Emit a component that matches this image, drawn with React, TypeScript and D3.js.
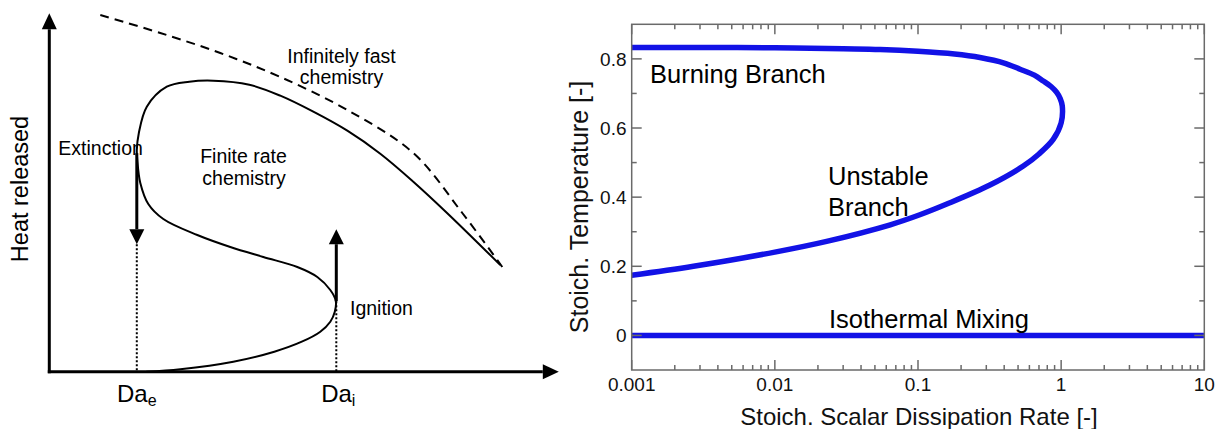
import React from 'react';
import * as d3 from 'd3';

const W = 1216;
const H = 429;
const FONT = '"Liberation Sans", Arial, Helvetica, sans-serif';

// ---------- Left panel: schematic S-curve (arbitrary units) ----------
const heatDa = [1.94, 2.62, 3.68, 4.5, 5.05, 5.42, 5.62, 5.71, 5.73, 5.62, 5.36, 4.96, 4.28, 3.62, 2.96, 2.28, 1.98, 1.82, 1.76, 1.75, 1.79, 1.95, 2.35, 2.8, 3.28, 4.0, 4.62, 5.28, 5.96, 6.62, 7.28, 7.96, 9.02];
const heatQ = [0, 0.05, 0.2, 0.4, 0.6, 0.8, 1.0, 1.2, 1.414, 1.634, 1.894, 2.094, 2.294, 2.494, 2.734, 3.054, 3.354, 3.774, 4.234, 4.434, 4.77, 5.3, 5.7, 5.8, 5.82, 5.74, 5.52, 5.2, 4.82, 4.36, 3.8, 3.17, 2.134];
const fastDa = [1.02, 2.22, 3.42, 4.62, 5.96, 7.28, 8.26, 9.06];
const fastQ = [7.134, 6.774, 6.374, 5.894, 5.234, 4.374, 3.174, 2.094];
const extinctionDa = 1.75;
const extinctionQ = [4.37, 2.55];
const ignitionDa = 5.74;
const ignitionQ = [1.41, 2.85];
const axisTipDa = 10.19;
const axisTipQ = 7.17;

// ---------- Right panel: S-curve data ----------
const chiTicks = [0.001, 0.01, 0.1, 1, 10];
const chiTickLabels = ['0.001', '0.01', '0.1', '1', '10'];
const tempTicks = [0, 0.2, 0.4, 0.6, 0.8];
const tempTickLabels = ['0', '0.2', '0.4', '0.6', '0.8'];
const tempMinorTicks = [0.1, 0.3, 0.5, 0.7];
const sChi = [0.001, 0.003, 0.01, 0.03, 0.0544, 0.1, 0.18, 0.271, 0.4, 0.516, 0.65, 0.75, 0.85, 0.931, 0.985, 1.018, 1.0, 0.88, 0.7, 0.544, 0.318, 0.159, 0.103, 0.064, 0.023, 0.01, 0.0027, 0.001];
const sTemp = [0.833, 0.833, 0.832, 0.829, 0.827, 0.822, 0.814, 0.804, 0.788, 0.770, 0.753, 0.736, 0.72, 0.703, 0.685, 0.664, 0.615, 0.567, 0.525, 0.490, 0.435, 0.38, 0.349, 0.32, 0.272, 0.241, 0.2, 0.174];
const mixChi = [0.001, 10];
const mixTemp = [0, 0];

function headDown(x: number, y: number, w: number, h: number) {
  return `${x},${y} ${x - w / 2},${y - h} ${x + w / 2},${y - h}`;
}
function headUp(x: number, y: number, w: number, h: number) {
  return `${x},${y} ${x - w / 2},${y + h} ${x + w / 2},${y + h}`;
}
function headRight(x: number, y: number, w: number, h: number) {
  return `${x},${y} ${x - h},${y - w / 2} ${x - h},${y + w / 2}`;
}

function LeftPanel() {
  const xL = d3.scaleLinear().domain([0, 10]).range([49.3, 549.3]);
  const yL = d3.scaleLinear().domain([0, 7]).range([371.7, 21.7]);
  const line = d3
    .line<[number, number]>()
    .x((d) => xL(d[0]))
    .y((d) => yL(d[1]))
    .curve(d3.curveCatmullRom.alpha(0.5));
  const heatPts = heatDa.map((d, i) => [d, heatQ[i]] as [number, number]);
  const fastPts = fastDa.map((d, i) => [d, fastQ[i]] as [number, number]);
  const x0 = xL(0);
  const y0 = yL(0);
  const ex = xL(extinctionDa);
  const ig = xL(ignitionDa);
  const AW = 15;
  const AH = 15;
  return (
    <g fontFamily={FONT} fill="#000">
      {/* axes */}
      <line x1={x0} y1={y0 + 1.5} x2={x0} y2={yL(axisTipQ) + 16} stroke="#000" strokeWidth={3} />
      <polygon points={headUp(x0, yL(axisTipQ), 15, 16)} fill="#000" />
      <line x1={x0 - 1.5} y1={y0} x2={xL(axisTipDa) - 16} y2={y0} stroke="#000" strokeWidth={3} />
      <polygon points={headRight(xL(axisTipDa), y0, 15, 16)} fill="#000" />

      {/* infinitely fast chemistry */}
      <path d={line(fastPts) || ''} fill="none" stroke="#000" strokeWidth={2} strokeDasharray="9,6" />
      {/* finite rate S-curve */}
      <path d={line(heatPts) || ''} fill="none" stroke="#000" strokeWidth={2} />

      {/* extinction */}
      <line x1={ex} y1={yL(extinctionQ[0])} x2={ex} y2={yL(extinctionQ[1]) - AH} stroke="#000" strokeWidth={3} />
      <polygon points={headDown(ex, yL(extinctionQ[1]), AW, AH)} fill="#000" />
      <line x1={ex} y1={yL(extinctionQ[1])} x2={ex} y2={y0} stroke="#000" strokeWidth={2} strokeDasharray="2,2" />

      {/* ignition */}
      <line x1={ig} y1={yL(ignitionQ[0])} x2={ig} y2={yL(ignitionQ[1]) + AH} stroke="#000" strokeWidth={3} />
      <polygon points={headUp(ig, yL(ignitionQ[1]), AW, AH)} fill="#000" />
      <line x1={ig} y1={yL(ignitionQ[0])} x2={ig} y2={y0} stroke="#000" strokeWidth={2} strokeDasharray="2,2" />

      {/* labels */}
      <text x={28} y={189} fontSize={23.5} textAnchor="middle" transform="rotate(-90 28 189)">Heat released</text>
      <text x={341.5} y={63.3} fontSize={19.5} textAnchor="middle">Infinitely fast</text>
      <text x={341.5} y={83.5} fontSize={19.5} textAnchor="middle">chemistry</text>
      <text x={58.3} y={155} fontSize={19.5}>Extinction</text>
      <text x={243.5} y={163.3} fontSize={19.5} textAnchor="middle">Finite rate</text>
      <text x={244} y={185} fontSize={19.5} textAnchor="middle">chemistry</text>
      <text x={350} y={315} fontSize={19.5}>Ignition</text>
      <text x={ex} y={401.7} fontSize={24} textAnchor="middle">
        Da<tspan fontSize={16} dy={4}>e</tspan>
      </text>
      <text x={ig + 2} y={401.7} fontSize={24} textAnchor="middle">
        Da<tspan fontSize={16} dy={4}>i</tspan>
      </text>
    </g>
  );
}

function RightPanel() {
  const left = 631.7;
  const right = 1204.3;
  const top = 24.3;
  const bottom = 370;
  const x = d3.scaleLog().domain([0.001, 10]).range([left, right]);
  const y = d3.scaleLinear().domain([-0.1, 0.9]).range([bottom, top]);
  const line = d3
    .line<[number, number]>()
    .x((d) => x(d[0]))
    .y((d) => y(d[1]))
    .curve(d3.curveCatmullRom.alpha(0.5));
  const sPts = sChi.map((c, i) => [c, sTemp[i]] as [number, number]);
  const mixPts = mixChi.map((c, i) => [c, mixTemp[i]] as [number, number]);
  const minorX: number[] = [];
  for (let i = 0; i < chiTicks.length - 1; i++) {
    for (let k = 2; k <= 9; k++) minorX.push(chiTicks[i] * k);
  }
  const AX = '#6a6a6a';
  const MAJ = 10;
  const MIN = 5;
  const blue = '#1212e6';
  return (
    <g fontFamily={FONT}>
      <defs>
        <clipPath id="plotclip">
          <rect x={left} y={top} width={right - left} height={bottom - top} />
        </clipPath>
      </defs>
      {/* curves */}
      <g clipPath="url(#plotclip)">
        <path d={line(sPts) || ''} fill="none" stroke={blue} strokeWidth={5.5} strokeLinejoin="round" />
        <path d={line(mixPts) || ''} fill="none" stroke={blue} strokeWidth={5.5} />
      </g>
      {/* frame */}
      <rect x={left} y={top} width={right - left} height={bottom - top} fill="none" stroke={AX} strokeWidth={1.5} />
      {/* x ticks */}
      {chiTicks.map((t) => (
        <g key={'xt' + t}>
          <line x1={x(t)} x2={x(t)} y1={bottom} y2={bottom - MAJ} stroke={AX} strokeWidth={1.5} />
          <line x1={x(t)} x2={x(t)} y1={top} y2={top + MAJ} stroke={AX} strokeWidth={1.5} />
        </g>
      ))}
      {minorX.map((t) => (
        <g key={'xm' + t}>
          <line x1={x(t)} x2={x(t)} y1={bottom} y2={bottom - MIN} stroke={AX} strokeWidth={1.5} />
          <line x1={x(t)} x2={x(t)} y1={top} y2={top + MIN} stroke={AX} strokeWidth={1.5} />
        </g>
      ))}
      {/* y ticks */}
      {tempTicks.map((t) => (
        <g key={'yt' + t}>
          <line x1={left} x2={left + MAJ} y1={y(t)} y2={y(t)} stroke={AX} strokeWidth={1.5} />
          <line x1={right} x2={right - MAJ} y1={y(t)} y2={y(t)} stroke={AX} strokeWidth={1.5} />
        </g>
      ))}
      {tempMinorTicks.map((t) => (
        <g key={'ym' + t}>
          <line x1={left} x2={left + MIN} y1={y(t)} y2={y(t)} stroke={AX} strokeWidth={1.5} />
          <line x1={right} x2={right - MIN} y1={y(t)} y2={y(t)} stroke={AX} strokeWidth={1.5} />
        </g>
      ))}
      {/* tick labels */}
      {chiTicks.map((t, i) => (
        <text key={'xl' + t} x={x(t)} y={391} fontSize={19} textAnchor="middle" fill="#111">
          {chiTickLabels[i]}
        </text>
      ))}
      {tempTicks.map((t, i) => (
        <text key={'yl' + t} x={626.5} y={y(t) + 7} fontSize={19} textAnchor="end" fill="#111">
          {tempTickLabels[i]}
        </text>
      ))}
      {/* titles */}
      <text x={919} y={425} fontSize={24} textAnchor="middle" fill="#111">
        Stoich. Scalar Dissipation Rate [-]
      </text>
      <text x={588} y={207} fontSize={25} textAnchor="middle" fill="#111" transform="rotate(-90 588 207)">
        Stoich. Temperature [-]
      </text>
      {/* annotations */}
      <text x={650} y={83.3} fontSize={25.5} fill="#000">Burning Branch</text>
      <text x={828} y={185} fontSize={25.5} fill="#000">Unstable</text>
      <text x={828} y={216} fontSize={25.5} fill="#000">Branch</text>
      <text x={829} y={328} fontSize={25.5} fill="#000">Isothermal Mixing</text>
    </g>
  );
}

export default function App() {
  return (
    <svg
      width={W}
      height={H}
      viewBox={`0 0 ${W} ${H}`}
      style={{ position: 'absolute', left: 0, top: 0, background: '#fff' }}
    >
      <rect x={0} y={0} width={W} height={H} fill="#fff" />
      <LeftPanel />
      <RightPanel />
    </svg>
  );
}
